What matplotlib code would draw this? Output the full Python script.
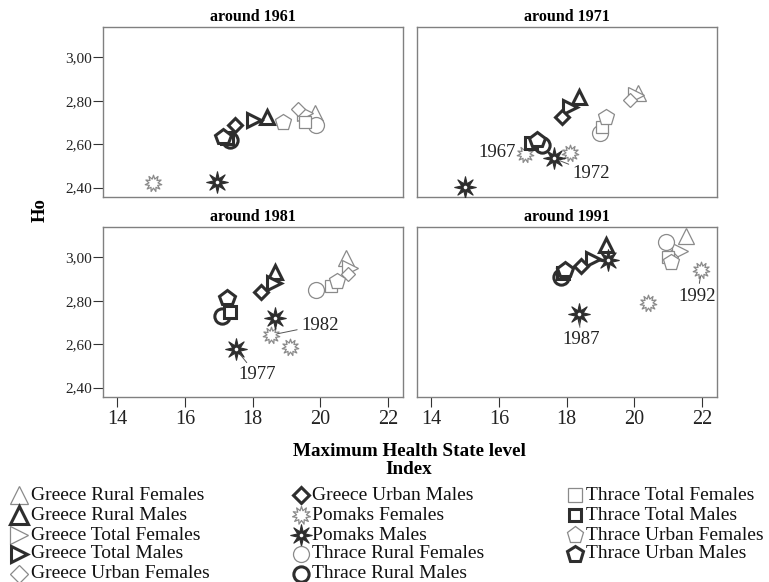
import numpy as np
import matplotlib
matplotlib.use("Agg")
import matplotlib.pyplot as plt
from matplotlib.path import Path
from matplotlib.ticker import FuncFormatter

plt.rcParams['font.family'] = ['Liberation Serif', 'DejaVu Serif']

periods = ["around 1961", "around 1971", "around 1981", "around 1991"]

# Maximum Health State level index (x) and Ho (y), one value per period
greece_rural_f_x = [19.83, 20.10, 20.76, 21.52]
greece_rural_f_y = [2.742, 2.837, 2.995, 3.098]
greece_rural_m_x = [18.41, 18.36, 18.65, 19.16]
greece_rural_m_y = [2.726, 2.816, 2.933, 3.056]
greece_total_f_x = [19.56, 20.06, 20.88, 21.34]
greece_total_f_y = [2.745, 2.826, 2.949, 3.030]
greece_total_m_x = [18.03, 18.09, 18.62, 18.77]
greece_total_m_y = [2.711, 2.772, 2.883, 2.990]
greece_urban_f_x = [19.35, 19.88, 20.81, 21.09]
greece_urban_f_y = [2.760, 2.803, 2.923, 3.000]
greece_urban_m_x = [17.47, 17.87, 18.26, 18.41]
greece_urban_m_y = [2.688, 2.726, 2.841, 2.960]
thrace_rural_f_x = [19.88, 18.98, 19.86, 20.92]
thrace_rural_f_y = [2.688, 2.650, 2.849, 3.071]
thrace_rural_m_x = [17.32, 17.28, 17.08, 17.82]
thrace_rural_m_y = [2.619, 2.596, 2.730, 2.910]
thrace_total_f_x = [19.54, 19.05, 20.30, 20.99]
thrace_total_f_y = [2.700, 2.680, 2.868, 3.002]
thrace_total_m_x = [17.24, 16.94, 17.32, 17.88]
thrace_total_m_y = [2.630, 2.607, 2.747, 2.926]
thrace_urban_f_x = [18.90, 19.15, 20.49, 21.09]
thrace_urban_f_y = [2.700, 2.724, 2.891, 2.979]
thrace_urban_m_x = [17.11, 17.12, 17.23, 17.95]
thrace_urban_m_y = [2.634, 2.619, 2.811, 2.941]

# Pomaks: one or two survey years per period
pomaks_f_x = [[15.06], [16.76, 18.09], [18.55, 19.09], [20.40, 21.98]]
pomaks_f_y = [[2.420], [2.555, 2.558], [2.642, 2.589], [2.788, 2.941]]
pomaks_m_x = [[16.95], [14.99, 17.62], [17.50, 18.65], [18.36, 19.23]]
pomaks_m_y = [[2.427], [2.405, 2.535], [2.578, 2.719], [2.739, 2.987]]

# survey-year notes: (period, series, point index, text)
year_notes = [
    (1, "Pomaks Females", 0, "1967"),
    (1, "Pomaks Males", 1, "1972"),
    (2, "Pomaks Males", 0, "1977"),
    (2, "Pomaks Females", 0, "1982"),
    (3, "Pomaks Males", 0, "1987"),
    (3, "Pomaks Females", 1, "1992"),
]
note_offsets = {"1967": (-9, 1, 'right', False), "1972": (19, -15, 'left', True),
                "1977": (21, -26, 'center', True), "1982": (30, 10, 'left', True),
                "1987": (2, -26, 'center', True), "1992": (-4, -26, 'center', True)}

x_ticks = [14, 16, 18, 20, 22]
y_ticks = [2.40, 2.60, 2.80, 3.00]


def star(n, inner):
    ang = np.linspace(0, 2 * np.pi, 2 * n, endpoint=False) + np.pi / 2
    rad = np.tile([1.0, inner], n)
    verts = np.column_stack([rad * np.cos(ang), rad * np.sin(ang)])
    verts = np.vstack([verts, verts[:1]])
    codes = [Path.MOVETO] + [Path.LINETO] * (2 * n - 1) + [Path.CLOSEPOLY]
    return Path(verts, codes)


LIGHT = '#8a8a8a'
DARK = '#2e2e2e'
thin = dict(mfc='white', mec=LIGHT, mew=0.9)
thick = dict(mfc='white', mec=DARK, mew=2.2)
open_star = star(11, 0.55)
black_star = star(8, 0.38)

# name, x, y, marker, size in panels, size in legend, style
groups = [
    ("Greece Rural Females", greece_rural_f_x, greece_rural_f_y, '^', 11, 13, thin),
    ("Greece Rural Males", greece_rural_m_x, greece_rural_m_y, '^', 10.5, 12.5, thick),
    ("Greece Total Females", greece_total_f_x, greece_total_f_y, '>', 11, 12.5, thin),
    ("Greece Total Males", greece_total_m_x, greece_total_m_y, '>', 10.5, 12, thick),
    ("Greece Urban Females", greece_urban_f_x, greece_urban_f_y, 'D', 7.6, 8.8, thin),
    ("Greece Urban Males", greece_urban_m_x, greece_urban_m_y, 'D', 7.4, 8.4, thick),
    ("Pomaks Females", pomaks_f_x, pomaks_f_y, open_star, 12, 13, thin),
    ("Pomaks Males", pomaks_m_x, pomaks_m_y, black_star, 15.5, 15.5,
     dict(mfc=DARK, mec=DARK, mew=0.8)),
    ("Thrace Rural Females", thrace_rural_f_x, thrace_rural_f_y, 'o', 11.5, 11.5, thin),
    ("Thrace Rural Males", thrace_rural_m_x, thrace_rural_m_y, 'o', 11, 11, thick),
    ("Thrace Total Females", thrace_total_f_x, thrace_total_f_y, 's', 8.6, 9.4, thin),
    ("Thrace Total Males", thrace_total_m_x, thrace_total_m_y, 's', 8.4, 9, thick),
    ("Thrace Urban Females", thrace_urban_f_x, thrace_urban_f_y, 'p', 12, 12.5, thin),
    ("Thrace Urban Males", thrace_urban_m_x, thrace_urban_m_y, 'p', 11.5, 12, thick),
]

W, H = 769, 582
fig = plt.figure(figsize=(W / 100, H / 100), dpi=100)

boxes = [(103, 27), (417, 27), (103, 227), (417, 227)]
aw, ah = 300, 170
axes = []
for k, (px, py) in enumerate(boxes):
    ax = fig.add_axes([px / W, 1 - (py + ah) / H, aw / W, ah / H])
    ax.set_xlim(13.58, 22.44)
    ax.set_ylim(2.357, 3.139)
    for s in ax.spines.values():
        s.set_color('#808080')
        s.set_linewidth(1.0)
    ax.set_xticks(x_ticks)
    ax.set_yticks(y_ticks)
    ax.yaxis.set_major_formatter(FuncFormatter(lambda v, p: f"{v:.2f}".replace('.', ',')))
    ax.tick_params(direction='out', length=7.5, width=0.8, color='#333333',
                   labelcolor='#222222')
    ax.tick_params(axis='x', labelsize=14.5, pad=2)
    ax.tick_params(axis='y', labelsize=11, pad=0.5)
    if k % 2 == 1:
        ax.tick_params(axis='y', left=False, labelleft=False)
    if k < 2:
        ax.tick_params(axis='x', bottom=False, labelbottom=False)
    ax.set_title(periods[k], fontsize=11.5, fontweight='bold', pad=4)
    axes.append(ax)

    for name, gx, gy, mk, ms, lms, st in groups:
        xs = np.atleast_1d(gx[k])
        ys = np.atleast_1d(gy[k])
        ax.plot(xs, ys, ls='none', marker=mk, ms=ms, **st, zorder=3)
        if name == "Pomaks Males":
            ax.plot(xs, ys, ls='none', marker='o', ms=2.6, mfc='white', mec='white',
                    mew=0, zorder=4)

# survey-year notes
lookup = {g[0]: g for g in groups}
for k, name, i, txt in year_notes:
    g = lookup[name]
    px, py = g[1][k][i], g[2][k][i]
    dx, dy, ha, line = note_offsets[txt]
    axes[k].annotate(txt, (px, py), xytext=(dx, dy), textcoords='offset pixels',
                     ha=ha, va='center', fontsize=13.5, color='#222222',
                     arrowprops=(dict(arrowstyle='-', color='#555555', lw=0.7,
                                      shrinkA=1, shrinkB=5) if line else None),
                     zorder=5)

fig.text(409 / W, 1 - 451 / H, "Maximum Health State level", ha='center', va='center',
         fontsize=13.8, fontweight='bold')
fig.text(409 / W, 1 - 469 / H, "Index", ha='center', va='center',
         fontsize=13.8, fontweight='bold')
fig.text(40 / W, 1 - 210 / H, "Ho", ha='center', va='center', rotation=90,
         fontsize=13.5, fontweight='bold')

# legend drawn in figure pixel coordinates
lg = fig.add_axes([0, 0, 1, 1])
lg.set_xlim(0, W)
lg.set_ylim(H, 0)
lg.axis('off')
col_x = [(19, 31), (301, 312), (575, 586)]
row_y = [495, 515, 535, 554, 574]
for j, (name, gx, gy, mk, ms, lms, st) in enumerate(groups):
    c = 0 if j < 5 else (1 if j < 10 else 2)
    r = j if j < 5 else (j - 5 if j < 10 else j - 10)
    mx, tx = col_x[c]
    y = row_y[r]
    lg.plot([mx], [y], ls='none', marker=mk, ms=lms, **st)
    if name == "Pomaks Males":
        lg.plot([mx], [y], ls='none', marker='o', ms=2.6, mfc='white', mec='white', mew=0)
    lg.text(tx, y, name, ha='left', va='center', fontsize=14, color='#111111')

fig.savefig("out.png", dpi=100)
